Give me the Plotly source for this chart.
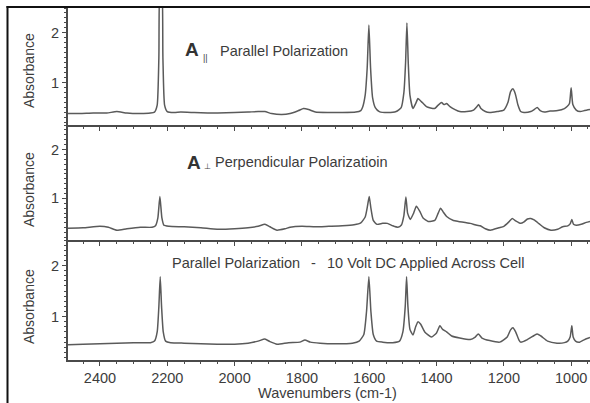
import plotly.graph_objects as go

# ---------------- data ----------------
wn_par = [2495, 2460, 2420, 2380, 2350, 2320, 2280, 2250, 2238, 2230, 2225, 2221, 2217, 2213, 2208,
          2200, 2180, 2160, 2120, 2080, 2050, 2000, 1960, 1930, 1910, 1890, 1860, 1835, 1810, 1795,
          1780, 1760, 1720, 1680, 1640, 1625, 1620, 1612, 1606, 1601, 1596, 1590, 1582, 1570, 1545,
          1520, 1505, 1497, 1492, 1488, 1484, 1479, 1470, 1462, 1455, 1445, 1430, 1406, 1395, 1385,
          1378, 1370, 1360, 1345, 1331, 1310, 1290, 1280, 1275, 1268, 1255, 1242, 1220, 1200, 1188,
          1180, 1173, 1166, 1158, 1150, 1140, 1120, 1110, 1101, 1092, 1080, 1063, 1040, 1020, 1012,
          1005, 1000, 995, 985, 973, 960, 944]
abs_par = [0.38, 0.38, 0.39, 0.39, 0.42, 0.39, 0.38, 0.39, 0.41, 0.55, 1.5, 3.0, 3.0, 1.5, 0.55,
           0.42, 0.40, 0.41, 0.40, 0.39, 0.39, 0.40, 0.41, 0.42, 0.42, 0.38, 0.36, 0.38, 0.44, 0.48,
           0.46, 0.41, 0.40, 0.40, 0.41, 0.44, 0.50, 0.75, 1.30, 2.16, 1.30, 0.70, 0.50, 0.42, 0.40,
           0.42, 0.50, 0.80, 1.40, 2.20, 1.40, 0.75, 0.48, 0.58, 0.68, 0.62, 0.52, 0.48, 0.55, 0.60,
           0.56, 0.58, 0.52, 0.46, 0.42, 0.42, 0.45, 0.52, 0.56, 0.48, 0.42, 0.40, 0.42, 0.45, 0.60,
           0.82, 0.88, 0.78, 0.55, 0.42, 0.40, 0.42, 0.46, 0.50, 0.44, 0.41, 0.43, 0.44, 0.48, 0.52,
           0.58, 0.90, 0.56, 0.45, 0.42, 0.44, 0.46]

wn_perp = [2495, 2450, 2400, 2375, 2350, 2320, 2280, 2245, 2235, 2228, 2222, 2216, 2210, 2195, 2150,
           2100, 2052, 2000, 1960, 1930, 1910, 1895, 1874, 1850, 1835, 1800, 1760, 1720, 1680, 1645,
           1625, 1612, 1605, 1600, 1595, 1588, 1577, 1560, 1546, 1530, 1515, 1505, 1497, 1491, 1486,
           1478, 1468, 1460, 1450, 1440, 1425, 1405, 1395, 1388, 1380, 1370, 1350, 1335, 1300, 1280,
           1270, 1255, 1240, 1215, 1200, 1185, 1175, 1165, 1150, 1140, 1130, 1120, 1110, 1095, 1080,
           1060, 1040, 1025, 1010, 1003, 998, 993, 985, 970, 955, 944]
abs_perp = [0.39, 0.40, 0.43, 0.41, 0.35, 0.38, 0.41, 0.41, 0.44, 0.60, 1.04, 0.60, 0.45, 0.43, 0.42,
            0.40, 0.37, 0.38, 0.40, 0.43, 0.47, 0.42, 0.35, 0.38, 0.41, 0.43, 0.42, 0.43, 0.44, 0.46,
            0.50, 0.62, 0.85, 1.04, 0.80, 0.55, 0.47, 0.49, 0.49, 0.44, 0.41, 0.45, 0.65, 1.03, 0.70,
            0.57, 0.70, 0.84, 0.74, 0.60, 0.53, 0.55, 0.70, 0.80, 0.72, 0.63, 0.55, 0.53, 0.49, 0.45,
            0.44, 0.38, 0.35, 0.40, 0.43, 0.52, 0.59, 0.54, 0.49, 0.52, 0.58, 0.59, 0.56, 0.48, 0.40,
            0.35, 0.37, 0.42, 0.44, 0.48, 0.57, 0.47, 0.45, 0.47, 0.51, 0.53]

wn_dc = [2495, 2450, 2400, 2350, 2300, 2250, 2238, 2230, 2225, 2221, 2217, 2212, 2205, 2190, 2150,
         2100, 2052, 2000, 1960, 1930, 1910, 1895, 1874, 1840, 1806, 1791, 1775, 1746, 1700, 1650,
         1630, 1616, 1608, 1601, 1595, 1588, 1578, 1560, 1530, 1510, 1500, 1493, 1489, 1485, 1479,
         1470, 1462, 1455, 1447, 1435, 1415, 1400, 1390, 1382, 1370, 1355, 1331, 1300, 1285, 1276,
         1265, 1242, 1212, 1190, 1180, 1173, 1165, 1155, 1150, 1130, 1110, 1101, 1090, 1070, 1042,
         1020, 1010, 1003, 998, 994, 987, 975, 960, 944]
abs_dc = [0.45, 0.46, 0.47, 0.48, 0.49, 0.49, 0.52, 0.70, 1.20, 1.78, 1.20, 0.70, 0.52, 0.49, 0.48,
          0.47, 0.46, 0.46, 0.48, 0.52, 0.56, 0.51, 0.46, 0.49, 0.50, 0.54, 0.50, 0.48, 0.47, 0.48,
          0.52, 0.65, 1.10, 1.78, 1.10, 0.65, 0.52, 0.50, 0.49, 0.52, 0.70, 1.20, 1.78, 1.20, 0.75,
          0.64, 0.80, 0.90, 0.85, 0.70, 0.60, 0.68, 0.82, 0.75, 0.70, 0.62, 0.58, 0.55, 0.60, 0.66,
          0.58, 0.53, 0.50, 0.60, 0.74, 0.78, 0.70, 0.54, 0.50, 0.55, 0.63, 0.66, 0.62, 0.52, 0.48,
          0.49, 0.52, 0.60, 0.82, 0.60, 0.52, 0.50, 0.55, 0.59]

x_ticks = [2400, 2200, 2000, 1800, 1600, 1400, 1200, 1000]
y_ticks = [1, 2]
titles = ["Parallel Polarization", "Perpendicular Polarizatioin",
          "Parallel Polarization", "-", "10 Volt DC Applied Across Cell"]

# ---------------- layout geometry (pixels) ----------------
W, H = 590, 403
L, R, T, B = 68, 0, 8, 43
PW, PH = W - L - R, H - T - B


def px(x):
    return (x - L) / PW


def py(y):
    return (H - B - y) / PH


LINE = "#5a5a5a"
AX = "#4a4a4a"
TXT = "#3c3c3c"
FONT = "Liberation Sans, Arial, sans-serif"

fig = go.Figure()
for i, (xs, ys) in enumerate([(wn_par, abs_par), (wn_perp, abs_perp), (wn_dc, abs_dc)]):
    fig.add_trace(go.Scatter(x=xs, y=ys, mode="lines", xaxis="x" if i == 0 else f"x{i+1}",
                             yaxis="y" if i == 0 else f"y{i+1}",
                             line=dict(color=LINE, width=1.5, shape="spline", smoothing=0.5),
                             showlegend=False, hoverinfo="skip"))

domains = [(py(125), 1.0), (py(240), py(125)), (0.0, py(240))]
xr = [2495, 944]
layout = dict(width=W, height=H, margin=dict(l=L, r=R, t=T, b=B),
              paper_bgcolor="white", plot_bgcolor="white",
              font=dict(family=FONT, size=14, color=TXT))
for i in range(3):
    xn = "xaxis" if i == 0 else f"xaxis{i+1}"
    yn = "yaxis" if i == 0 else f"yaxis{i+1}"
    ya = "y" if i == 0 else f"y{i+1}"
    layout[xn] = dict(range=xr, domain=[0, 1], anchor=ya, showgrid=False, zeroline=False,
                      showline=True, linecolor=AX, linewidth=2,
                      ticks="outside", ticklen=4, tickwidth=1, tickcolor=AX,
                      tickvals=x_ticks, showticklabels=(i == 2),
                      tickfont=dict(size=14.5, color=TXT),
                      minor=dict(dtick=50, ticks="outside", ticklen=2, tickcolor=AX))
    if i == 0:
        layout[xn]["mirror"] = True
    if i > 0:
        layout[xn]["matches"] = "x"
    layout[yn] = dict(range=[0.15, 2.5], domain=list(domains[i]),
                      anchor="x" if i == 0 else f"x{i+1}",
                      showgrid=False, zeroline=False, showline=True, linecolor=AX, linewidth=2,
                      ticks="outside", ticklen=4, tickcolor=AX, tickvals=y_ticks,
                      tickfont=dict(size=14.5, color=TXT),
                      minor=dict(dtick=0.1, ticks="outside", ticklen=2, tickcolor=AX))
fig.update_layout(**layout)

ann = []
for yc in (71, 190, 307):
    ann.append(dict(text="Absorbance", x=px(29), y=py(yc), textangle=-90,
                    font=dict(size=14, color=TXT)))
ann.append(dict(text="Wavenumbers (cm-1)", x=px(327), y=py(393), font=dict(size=14.5, color=TXT)))
# panel 1
ann.append(dict(text="<b>A</b>", x=px(192), y=py(50), font=dict(size=19, color="#333333")))
ann.append(dict(text="||", x=px(205), y=py(58), font=dict(size=9, color="#444444")))
ann.append(dict(text=titles[0], x=px(218), y=py(51), xanchor="left", font=dict(size=14.5, color=TXT)))
# panel 2
ann.append(dict(text="<b>A</b>", x=px(194), y=py(162), font=dict(size=19, color="#333333")))
ann.append(dict(text="\u22a5", x=px(207), y=py(166), font=dict(size=8, color="#444444")))
ann.append(dict(text=titles[1], x=px(213), y=py(162), xanchor="left", font=dict(size=14.5, color=TXT)))
# panel 3
ann.append(dict(text=titles[2], x=px(170), y=py(263), xanchor="left", font=dict(size=14.5, color=TXT)))
ann.append(dict(text=titles[3], x=px(313), y=py(263), font=dict(size=14.5, color=TXT)))
ann.append(dict(text=titles[4], x=px(325), y=py(263), xanchor="left", font=dict(size=14.5, color=TXT)))
for a in ann:
    a.update(xref="paper", yref="paper", showarrow=False)
    a.setdefault("xanchor", "center")
    a.setdefault("yanchor", "middle")
fig.update_layout(annotations=ann)

# outer frame (top and left border of the scanned figure)
fig.update_layout(shapes=[
    dict(type="line", xref="paper", yref="paper", x0=px(6.5), x1=1.0, y0=py(7), y1=py(7),
         line=dict(color="#111111", width=2), layer="above"),
    dict(type="line", xref="paper", yref="paper", x0=px(7.5), x1=px(7.5), y0=py(6), y1=py(405),
         line=dict(color="#111111", width=2), layer="above"),
])

fig.write_html("out.html", config={"displayModeBar": False},
               post_script="document.body.style.margin='0';document.body.style.overflow='hidden';")
